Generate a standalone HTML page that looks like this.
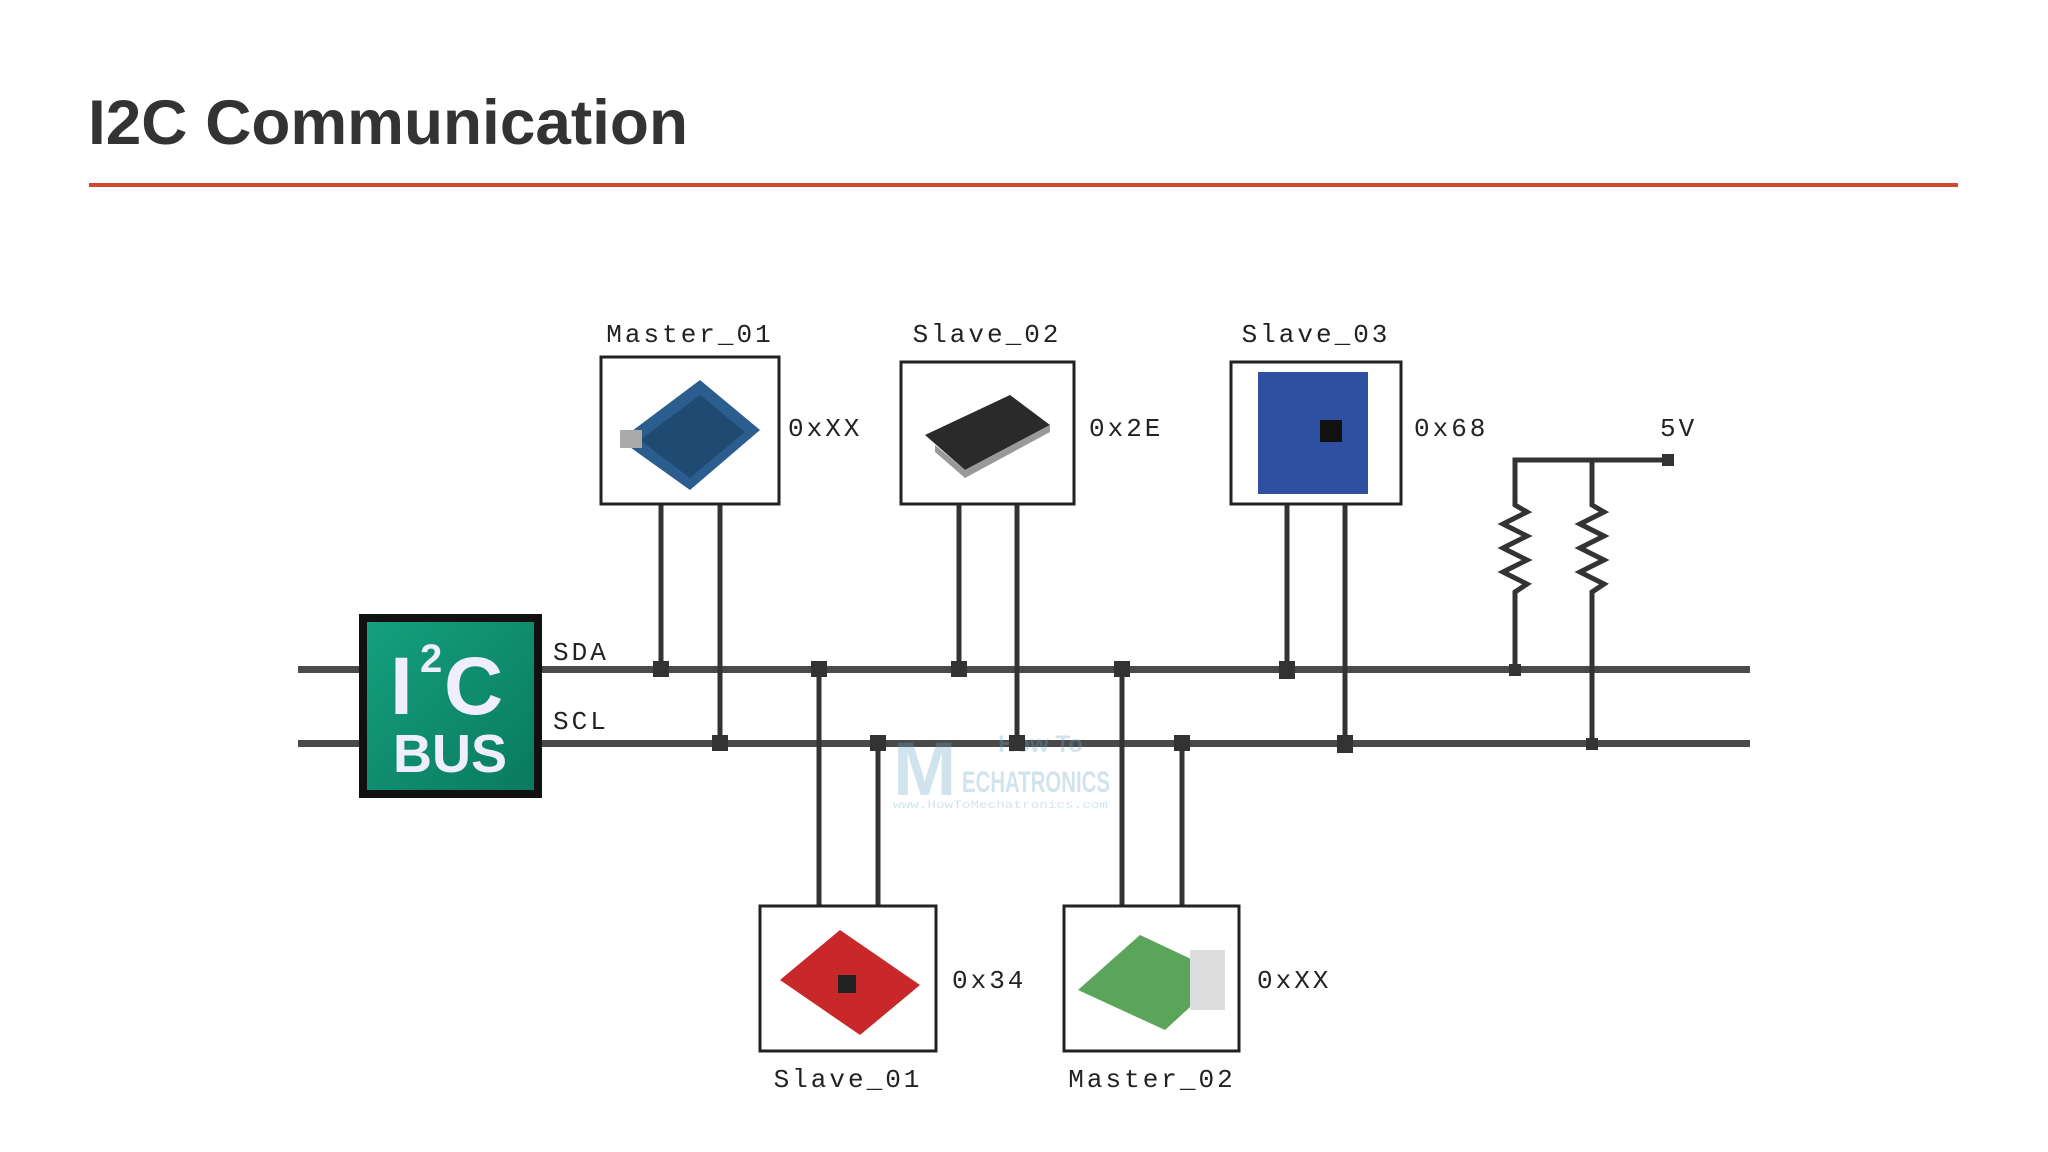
<!DOCTYPE html>
<html><head><meta charset="utf-8"><style>
html,body{margin:0;padding:0;background:#fff;}
svg{display:block;}
</style></head><body>
<svg width="2048" height="1152" viewBox="0 0 2048 1152" xmlns="http://www.w3.org/2000/svg">
<defs>
<linearGradient id="g" x1="0" y1="0" x2="1" y2="1">
<stop offset="0" stop-color="#14a07e"/><stop offset="1" stop-color="#0a7a5e"/>
</linearGradient>
</defs>
<text x="88" y="144" font-family="Liberation Sans, sans-serif" font-weight="bold" font-size="63" fill="#333" textLength="600" lengthAdjust="spacingAndGlyphs">I2C Communication</text>
<rect x="89" y="183" width="1869" height="4" fill="#d0492a"/>

<!-- bus lines -->
<rect x="298" y="666" width="1452" height="7" fill="#4a4a4a"/>
<rect x="298" y="740" width="1452" height="7" fill="#4a4a4a"/>

<!-- watermark -->
<g opacity="0.3" font-family="Liberation Sans, sans-serif" fill="#6aa9c9">
<text x="893" y="795" font-size="76" font-weight="bold">M</text>
<text x="998" y="752" font-size="24" font-weight="bold">How To</text>
<text x="962" y="792" font-size="30" font-weight="bold" textLength="148" lengthAdjust="spacingAndGlyphs">ECHATRONICS</text>
<text x="893" y="808" font-size="11" font-family="Liberation Mono, monospace" textLength="215" lengthAdjust="spacingAndGlyphs">www.HowToMechatronics.com</text>
</g>

<g stroke="#333" stroke-width="5" fill="none">
<line x1="661" y1="504" x2="661" y2="670"/>
<line x1="720" y1="504" x2="720" y2="744"/>
<line x1="959" y1="504" x2="959" y2="670"/>
<line x1="1017" y1="504" x2="1017" y2="744"/>
<line x1="1287" y1="504" x2="1287" y2="670"/>
<line x1="1345" y1="504" x2="1345" y2="744"/>
<line x1="819" y1="670" x2="819" y2="905"/>
<line x1="878" y1="744" x2="878" y2="905"/>
<line x1="1122" y1="670" x2="1122" y2="905"/>
<line x1="1182" y1="744" x2="1182" y2="905"/>
<polyline points="1668,460 1515,460 1515,505 1527,512 1503,524 1527,536 1503,548 1527,560 1503,572 1527,584 1515,592 1515,670"/>
<polyline points="1592,460 1592,505 1604,512 1580,524 1604,536 1580,548 1604,560 1580,572 1604,584 1592,592 1592,744"/>
</g>
<rect x="1662" y="454" width="12" height="12" fill="#333"/>

<g fill="#333">
<rect x="653" y="661" width="16" height="16"/>
<rect x="712" y="735" width="16" height="16"/>
<rect x="951" y="661" width="16" height="16"/>
<rect x="1009" y="735" width="16" height="16"/>
<rect x="1279" y="661" width="16" height="18"/>
<rect x="1337" y="735" width="16" height="18"/>
<rect x="811" y="661" width="16" height="16"/>
<rect x="870" y="735" width="16" height="16"/>
<rect x="1114" y="661" width="16" height="16"/>
<rect x="1174" y="735" width="16" height="16"/>
<rect x="1509" y="664" width="12" height="12"/>
<rect x="1586" y="738" width="12" height="12"/>
</g>

<rect x="359" y="614" width="183" height="184" fill="#111"/>
<rect x="367" y="622" width="167" height="168" fill="url(#g)"/>
<text x="390" y="714" font-family="Liberation Sans, sans-serif" font-weight="bold" font-size="82" fill="#eef">I</text>
<text x="420" y="672" font-family="Liberation Sans, sans-serif" font-weight="bold" font-size="40" fill="#eef">2</text>
<text x="444" y="714" font-family="Liberation Sans, sans-serif" font-weight="bold" font-size="82" fill="#eef">C</text>
<text x="450" y="772" text-anchor="middle" font-family="Liberation Sans, sans-serif" font-weight="bold" font-size="54" fill="#eef">BUS</text>

<g fill="#fff" stroke="#222" stroke-width="3">
<rect x="601" y="357" width="178" height="147"/>
<rect x="901" y="362" width="173" height="142"/>
<rect x="1231" y="362" width="170" height="142"/>
<rect x="760" y="906" width="176" height="145"/>
<rect x="1064" y="906" width="175" height="145"/>
</g>
<polygon points="620,440 700,380 760,430 690,490" fill="#2b5d8e"/>
<polygon points="640,440 700,395 745,432 690,478" fill="#1f4a72"/>
<rect x="620" y="430" width="22" height="18" fill="#aaa"/>
<polygon points="925,435 1010,395 1050,425 965,470" fill="#2a2a2a"/>
<polygon points="935,445 965,470 1050,425 1050,432 965,478 935,452" fill="#999"/>
<rect x="1258" y="372" width="110" height="122" fill="#2f4fa0"/>
<rect x="1320" y="420" width="22" height="22" fill="#111"/>
<polygon points="780,980 840,930 920,985 860,1035" fill="#c8282a"/>
<rect x="838" y="975" width="18" height="18" fill="#222"/>
<polygon points="1078,990 1140,935 1225,975 1165,1030" fill="#5aa55a"/>
<rect x="1190" y="950" width="35" height="60" fill="#ddd"/>

<g font-family="Liberation Mono, DejaVu Sans Mono, monospace" font-size="26" fill="#222" letter-spacing="3">
<text x="690" y="342" text-anchor="middle">Master_01</text>
<text x="987" y="342" text-anchor="middle">Slave_02</text>
<text x="1316" y="342" text-anchor="middle">Slave_03</text>
<text x="788" y="436">0xXX</text>
<text x="1089" y="436">0x2E</text>
<text x="1414" y="436">0x68</text>
<text x="1660" y="436">5V</text>
<text x="553" y="660">SDA</text>
<text x="553" y="729">SCL</text>
<text x="952" y="988">0x34</text>
<text x="1257" y="988">0xXX</text>
<text x="848" y="1087" text-anchor="middle">Slave_01</text>
<text x="1152" y="1087" text-anchor="middle">Master_02</text>
</g>
</svg>
</body></html>
